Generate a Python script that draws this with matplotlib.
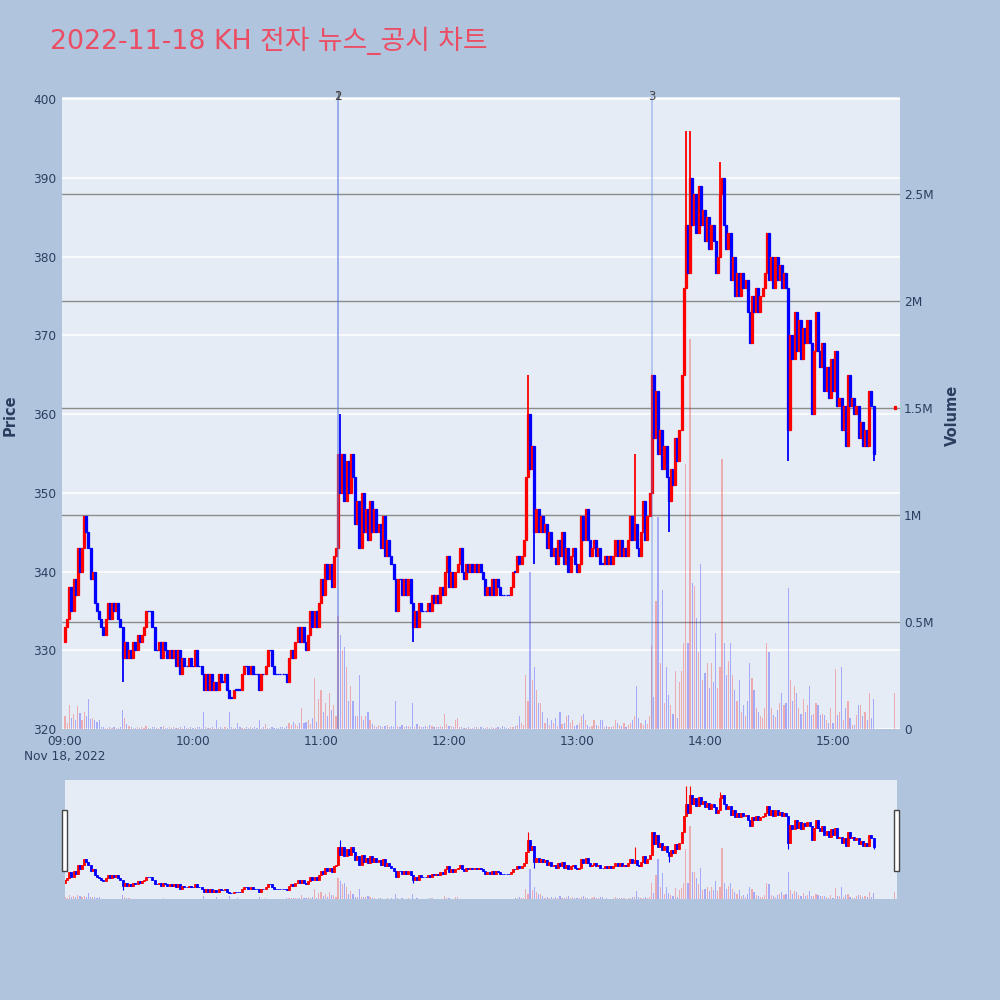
import numpy as np
import matplotlib
matplotlib.use("Agg")
import matplotlib.pyplot as plt
from matplotlib.patches import Rectangle
from matplotlib.transforms import blended_transform_factory

# ---------------- data ----------------
title = "2022-11-18 KH 전자 뉴스_공시 차트"

# 1-minute closes from 09:00 (index = minutes after 09:00)
closes = [
    333, 334, 338, 335, 339, 337, 343, 340, 343, 347,
    345, 343, 339, 340, 336, 335, 334, 333, 332, 334,
    336, 334, 336, 335, 336, 334, 333, 329, 331, 329,
    330, 329, 331, 330, 332, 331, 332, 333, 335, 335,
    335, 333, 330, 330, 331, 329, 331, 330, 329, 330,
    329, 330, 328, 330, 327, 329, 328, 328, 329, 328,
    328, 330, 328, 328, 327, 325, 327, 325, 327, 325,
    326, 325, 327, 326, 326, 327, 325, 324, 324, 325,
    325, 325, 325, 327, 328, 328, 327, 328, 327, 327,
    327, 325, 327, 327, 328, 330, 330, 328, 327, 327,
    327, 327, 327, 327, 326, 329, 330, 329, 331, 333,
    331, 333, 331, 330, 332, 335, 333, 335, 333, 336,
    339, 337, 341, 339, 341, 338, 342, 343, 355, 350,
    355, 349, 354, 350, 355, 352, 346, 349, 343, 350,
    345, 348, 344, 349, 345, 348, 345, 346, 343, 347,
    342, 344, 342, 341, 339, 335, 339, 339, 337, 339,
    337, 339, 336, 333, 335, 333, 336, 335, 335, 335,
    336, 335, 337, 336, 337, 336, 338, 337, 340, 342,
    338, 340, 338, 340, 341, 343, 340, 339, 341, 340,
    341, 340, 341, 340, 341, 340, 339, 337, 338, 337,
    339, 337, 339, 338, 337, 337, 337, 337, 337, 338,
    340, 340, 342, 341, 342, 344, 352, 360, 353, 356,
    345, 348, 345, 347, 345, 346, 343, 345, 342, 343,
    341, 344, 342, 345, 341, 343, 340, 342, 343, 341,
    340, 341, 347, 344, 348, 344, 342, 343, 344, 342,
    343, 341, 341, 342, 341, 342, 341, 342, 344, 342,
    344, 342, 343, 342, 344, 347, 344, 346, 343, 342,
    345, 349, 344, 347, 350, 365, 357, 363, 355, 358,
    353, 356, 352, 349, 353, 351, 357, 354, 358, 365,
    376, 384, 378, 390, 384, 388, 383, 389, 384, 386,
    382, 385, 381, 384, 382, 378, 380, 388, 390, 384,
    381, 383, 377, 380, 375, 378, 375, 378, 376, 377,
    373, 369, 375, 373, 376, 373, 375, 376, 378, 383,
    377, 380, 376, 380, 377, 379, 376, 378, 376, 358,
    370, 367, 373, 368, 372, 367, 371, 369, 372, 369,
    360, 368, 373, 368, 366, 369, 363, 366, 362, 367,
    363, 368, 361, 362, 358, 361, 356, 365, 361, 362,
    360, 361, 357, 359, 356, 358, 356, 363, 361, 355,
]
first_open = 331

# volume per minute, in thousands of shares
volume_k = [
    60, 30, 110, 50, 70, 40, 107, 73, 40, 80,
    60, 140, 45, 50, 40, 35, 40, 10, 8, 5,
    5, 8, 5, 10, 5, 6, 8, 90, 50, 25,
    15, 8, 6, 5, 10, 5, 8, 5, 12, 6,
    5, 8, 10, 5, 6, 8, 15, 5, 6, 8,
    5, 10, 6, 5, 8, 5, 12, 6, 5, 8,
    5, 6, 10, 8, 5, 80, 10, 5, 6, 8,
    5, 40, 6, 8, 5, 10, 6, 80, 8, 5,
    6, 30, 8, 5, 6, 8, 5, 10, 6, 8,
    5, 40, 6, 8, 25, 5, 6, 8, 5, 6,
    5, 8, 10, 6, 15, 30, 20, 35, 25, 15,
    30, 100, 30, 35, 40, 25, 50, 240, 35, 140,
    180, 80, 120, 60, 170, 90, 110, 60, 530, 440,
    370, 385, 290, 130, 200, 130, 60, 60, 250, 60,
    40, 60, 80, 40, 25, 15, 10, 20, 15, 10,
    12, 20, 8, 15, 10, 130, 15, 10, 20, 10,
    12, 15, 8, 120, 10, 25, 12, 10, 8, 12,
    10, 20, 15, 10, 8, 10, 12, 8, 70, 25,
    15, 12, 10, 40, 50, 10, 8, 6, 5, 8,
    5, 6, 8, 10, 5, 8, 6, 5, 10, 6,
    8, 5, 6, 10, 5, 12, 8, 6, 5, 10,
    10, 15, 20, 60, 30, 20, 250, 130, 735, 230,
    290, 180, 120, 120, 80, 30, 50, 20, 40, 30,
    50, 15, 80, 25, 30, 60, 65, 30, 40, 15,
    20, 30, 60, 70, 40, 20, 10, 15, 40, 20,
    15, 40, 40, 10, 15, 8, 10, 15, 40, 30,
    20, 15, 30, 10, 20, 30, 40, 60, 200, 50,
    30, 20, 40, 25, 60, 390, 150, 600, 990, 310,
    650, 120, 290, 160, 110, 70, 270, 50, 220, 270,
    400, 1240, 400, 1820, 680, 670, 520, 360, 770, 230,
    260, 310, 190, 310, 220, 450, 190, 290, 1260, 400,
    250, 320, 400, 250, 180, 130, 230, 80, 110, 60,
    130, 310, 240, 180, 100, 80, 60, 50, 100, 400,
    360, 100, 66, 58, 90, 120, 170, 110, 120, 660,
    230, 130, 200, 170, 100, 70, 140, 80, 110, 200,
    65, 70, 120, 110, 65, 70, 65, 40, 30, 100,
    30, 280, 65, 80, 290, 40, 100, 130, 50, 20,
    20, 65, 110, 110, 60, 80, 40, 170, 50, 140,
]

# closing-auction candle
auction_minute = 389
auction_open = 360.6
auction_close = 361
auction_volume_k = 170

# notable wick extremes (minute, price)
wick_hi_t = [9, 129, 217, 267, 275, 291, 293, 307, 329]
wick_hi_v = [347, 360, 365, 355, 365, 396, 396, 392, 383]
wick_lo_t = [27, 77, 163, 220, 283, 339, 350, 379]
wick_lo_v = [326, 324, 331, 341, 345, 354, 360, 354]

news_minutes = [128, 128, 275]
news_labels = ["1", "2", "3"]

price_ticks = [320, 330, 340, 350, 360, 370, 380, 390, 400]
vol_ticks = [0, 0.5e6, 1.0e6, 1.5e6, 2.0e6, 2.5e6]
vol_tick_labels = ["0", "0.5M", "1M", "1.5M", "2M", "2.5M"]
time_ticks = [0, 60, 120, 180, 240, 300, 360]
time_tick_labels = ["09:00", "10:00", "11:00", "12:00", "13:00", "14:00", "15:00"]
date_label = "Nov 18, 2022"

# ---------------- build OHLC ----------------
t = list(range(len(closes))) + [auction_minute]
c = np.array(closes + [auction_close], dtype=float)
o = np.array([first_open] + closes[:-1] + [auction_open], dtype=float)
h = np.maximum(o, c)
l = np.minimum(o, c)
for tt, vv in zip(wick_hi_t, wick_hi_v):
    h[tt] = max(h[tt], vv)
for tt, vv in zip(wick_lo_t, wick_lo_v):
    l[tt] = min(l[tt], vv)
vol = np.array(volume_k + [auction_volume_k], dtype=float) * 1000
t = np.array(t, dtype=float)
UP, DN = "#FF0000", "#0000FF"
cols = [UP if cc > oo else DN for oo, cc in zip(o, c)]

# ---------------- figure ----------------
FIG_BG = "#B0C4DE"
PLOT_BG = "#E5ECF6"
TXT = "#2a3f5f"
W, H = 1000, 1000
fig = plt.figure(figsize=(10, 10), dpi=100)
fig.patch.set_facecolor(FIG_BG)

def rect(x0, y0, x1, y1):
    return [x0 / W, 1 - y1 / H, (x1 - x0) / W, (y1 - y0) / H]

XMIN, XMAX = -1.4, 391.4
PMIN, PMAX = 320, 400.3
VMAX = 2.953e6

def draw(axp, axv, body_w, lw, vol_w, wick_lw):
    axv.bar(t, vol, width=vol_w, color=cols, alpha=0.28, linewidth=0)
    bh = np.abs(c - o)
    axp.vlines(t, l, h, colors=cols, linewidth=wick_lw, zorder=3)
    axp.bar(t, np.maximum(bh, 0.05), bottom=np.minimum(o, c), width=body_w,
            color=cols, edgecolor=cols, linewidth=lw, zorder=4)

# main axes: volume base, price on top
axv = fig.add_axes(rect(62, 97, 900, 729))
axv.set_facecolor(PLOT_BG)
axp = axv.twinx()
axp.patch.set_visible(False)

axv.set_xlim(XMIN, XMAX)
axv.set_ylim(0, VMAX)
axp.set_ylim(PMIN, PMAX)

# price grid (white) drawn on base axes under volume
tr = blended_transform_factory(axv.transAxes, axp.transData)
for p in price_ticks:
    axv.plot([0, 1], [p, p], transform=tr, color="white", lw=1.1, zorder=0.5)
for v in vol_ticks[1:]:
    axv.axhline(v, color="#8c8c8c", lw=1.0, zorder=0.6)

draw(axp, axv, body_w=0.95, lw=0.9, vol_w=0.55, wick_lw=1.3)

# news lines
for m, lab in zip(news_minutes, news_labels):
    axp.axvline(m, color="#5b7be0", alpha=0.4, lw=1.2, zorder=5)
    axp.text(m, PMAX + 0.1, lab, ha="center", va="center", fontsize=8.5,
             color="#444444", zorder=6, clip_on=False)

# axes styling
for ax in (axv, axp):
    for s in ax.spines.values():
        s.set_visible(False)
    ax.tick_params(length=0, colors=TXT, labelsize=8.7)

axv.yaxis.tick_right()
axv.set_yticks(vol_ticks)
axv.set_yticklabels(vol_tick_labels)
axv.tick_params(axis="y", pad=3)
axp.yaxis.tick_left()
axp.yaxis.set_label_position("left")
axp.set_yticks(price_ticks)
axp.set_yticklabels([str(p) for p in price_ticks])
axp.tick_params(axis="y", pad=4, labelright=False, labelleft=True)
axv.tick_params(axis="y", labelleft=False, labelright=True)

axv.set_xticks(time_ticks)
axv.set_xticklabels(time_tick_labels)
axv.tick_params(axis="x", pad=4)
axv.text(0, -0.043, date_label, transform=blended_transform_factory(axv.transData, axv.transAxes),
         ha="center", va="center", fontsize=8.7, color=TXT)

fig.text(10 / W, 1 - 415 / H, "Price", rotation=90, ha="center", va="center",
         fontsize=10.5, fontweight="bold", color=TXT)
fig.text(952 / W, 1 - 415 / H, "Volume", rotation=90, ha="center", va="center",
         fontsize=10.5, fontweight="bold", color=TXT)

fig.text(50 / W, 1 - 41 / H, title, ha="left", va="center", fontsize=19.3,
         color="#EB4D63", family=["DejaVu Sans", "Noto Sans CJK KR"])

# ---------------- range slider ----------------
sv = fig.add_axes(rect(65, 780, 897, 899))
sv.set_facecolor(PLOT_BG)
sp = sv.twinx()
sp.patch.set_visible(False)
sv.set_xlim(XMIN + 1.4, XMAX - 1.4)
sv.set_ylim(0, VMAX)
sp.set_ylim(PMIN, PMAX)
draw(sp, sv, body_w=0.95, lw=0.6, vol_w=0.55, wick_lw=0.8)
for ax in (sv, sp):
    ax.set_xticks([])
    ax.set_yticks([])
    for s in ax.spines.values():
        s.set_visible(False)

for x0 in (62, 894):
    fig.patches.append(Rectangle((x0 / W, 1 - 871 / H), 4.5 / W, 61 / H,
                                 transform=fig.transFigure, facecolor="white",
                                 edgecolor="#444444", lw=1.0))

fig.savefig("out.png", dpi=100, facecolor=FIG_BG)
